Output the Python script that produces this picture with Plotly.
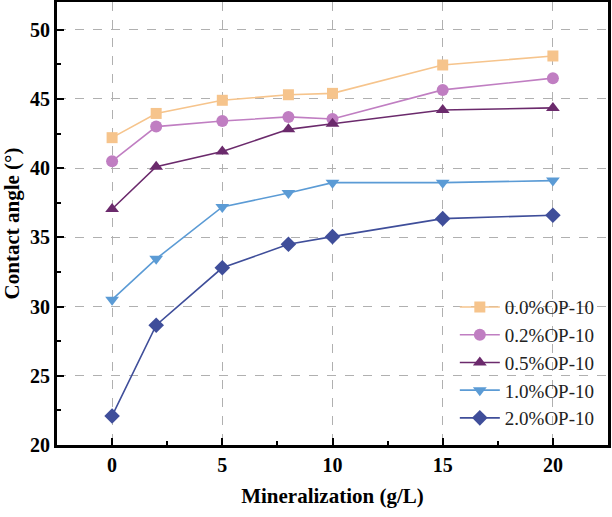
import plotly.graph_objects as go

x_vals = [0, 2, 5, 8, 10, 15, 20]
series_names = ["0.0%OP-10", "0.2%OP-10", "0.5%OP-10", "1.0%OP-10", "2.0%OP-10"]
y_00 = [42.2, 43.95, 44.9, 45.3, 45.4, 47.45, 48.1]
y_02 = [40.5, 43.0, 43.4, 43.7, 43.55, 45.65, 46.5]
y_05 = [37.05, 40.1, 41.2, 42.8, 43.2, 44.2, 44.35]
y_10 = [30.5, 33.45, 37.2, 38.2, 38.95, 38.95, 39.1]
y_20 = [22.1, 28.65, 32.8, 34.5, 35.05, 36.35, 36.6]

x_ticks = [0, 5, 10, 15, 20]
y_ticks = [20, 25, 30, 35, 40, 45, 50]

colors = ["#F6C48C", "#C07EC2", "#6B2A6C", "#5B9BD5", "#3F4E9A"]
symbols = ["square", "circle", "triangle-up", "triangle-down", "diamond"]
sizes = [11, 12, 12, 12, 12]

fig = go.Figure()
for name, ys, c, s, sz in zip(series_names, [y_00, y_02, y_05, y_10, y_20], colors, symbols, sizes):
    fig.add_trace(go.Scatter(
        x=x_vals, y=ys, name=name, mode="lines+markers",
        line=dict(color=c, width=1.6),
        marker=dict(symbol=s, size=sz, color=c),
    ))

font_family = "Liberation Serif, Times New Roman, serif"
fig.update_layout(
    width=612, height=517,
    margin=dict(l=57, r=4, t=2, b=72),
    plot_bgcolor="white", paper_bgcolor="white",
    font=dict(family=font_family, color="black"),
    legend=dict(
        x=0.722, y=0.354, xanchor="left", yanchor="top",
        bgcolor="rgba(0,0,0,0)",
        font=dict(family=font_family, size=19, color="#222222"),
        itemwidth=40,
    ),
    showlegend=True,
)
fig.update_xaxes(
    range=[-2.5, 22.5], tickvals=x_ticks, ticktext=[f"<b>{v}</b>" for v in x_ticks],
    automargin=False,
    showline=True, linewidth=3, linecolor="black", mirror=True,
    ticks="inside", ticklen=7, tickwidth=2, tickcolor="black",
    minor=dict(tickvals=[2.5, 7.5, 12.5, 17.5], ticks="inside", ticklen=4, tickwidth=2, tickcolor="black", showgrid=False),
    showgrid=True, gridcolor="#B0B0B0", gridwidth=1, griddash="dash",
    zeroline=False,
    tickfont=dict(family=font_family, size=20, color="black"),
    title=dict(text="<b>Mineralization (g/L)</b>", font=dict(family=font_family, size=21, color="black"), standoff=14),
)
fig.update_yaxes(
    range=[20, 52], tickvals=y_ticks, ticktext=[f"<b>{v}</b>" for v in y_ticks],
    automargin=False,
    showline=True, linewidth=3, linecolor="black", mirror=True,
    ticks="inside", ticklen=7, tickwidth=2, tickcolor="black",
    minor=dict(tickvals=[22.5, 27.5, 32.5, 37.5, 42.5, 47.5], ticks="inside", ticklen=4, tickwidth=2, tickcolor="black", showgrid=False),
    showgrid=True, gridcolor="#B0B0B0", gridwidth=1, griddash="dash",
    zeroline=False,
    tickfont=dict(family=font_family, size=20, color="black"),
    title=dict(text="<b>Contact angle (°)</b>", font=dict(family=font_family, size=21, color="black"), standoff=10),
)

fig.write_html("out.html", config={"displayModeBar": False},
               post_script="document.body.style.margin='0px';")
